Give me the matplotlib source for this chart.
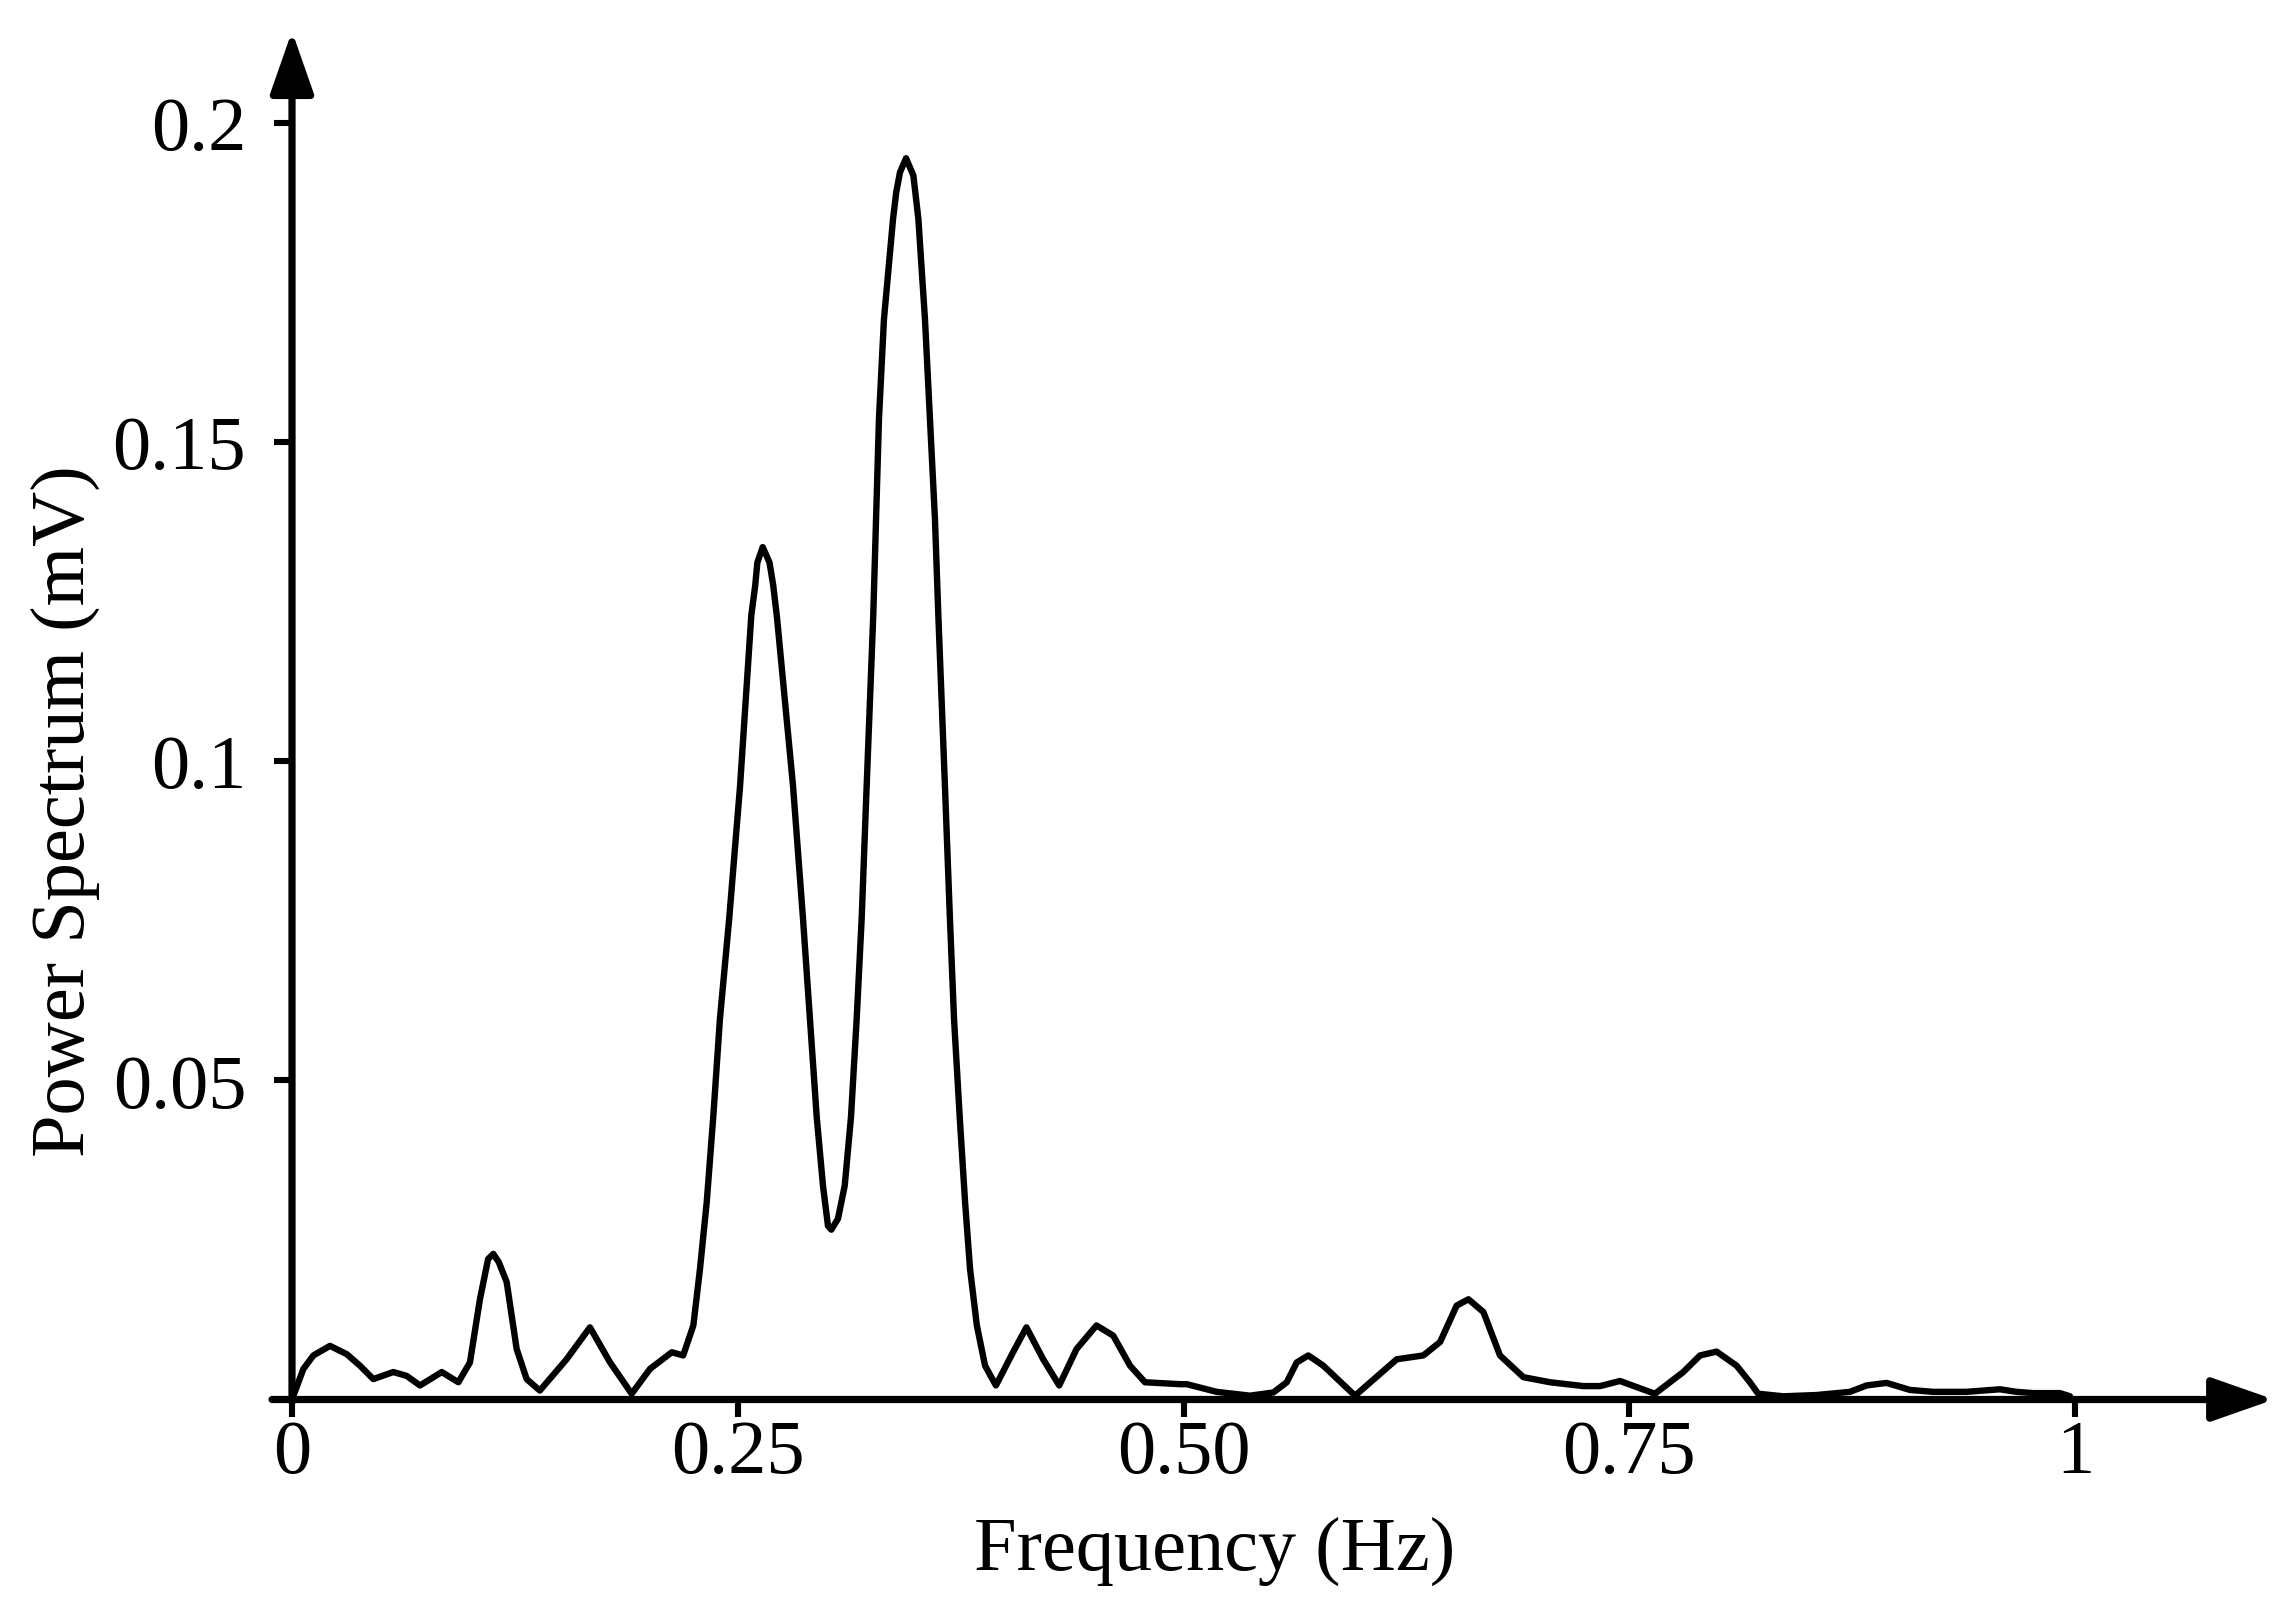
import matplotlib
matplotlib.use("Agg")
import matplotlib.pyplot as plt

# ---- data ----
freq = [0.0000, 0.0064, 0.0120, 0.0213, 0.0307, 0.0381, 0.0456, 0.0568, 0.0643, 0.0718,
        0.0840, 0.0933, 0.0998, 0.1054, 0.1100, 0.1129, 0.1160, 0.1204, 0.1260, 0.1316, 0.1390, 0.1540,
        0.1671, 0.1784, 0.1905, 0.2008, 0.2130, 0.2194, 0.2251, 0.2288, 0.2326, 0.2363,
        0.2400, 0.2452, 0.2513, 0.2576, 0.2598, 0.2610, 0.2640, 0.2678, 0.2699, 0.2720,
        0.2810, 0.2866, 0.2905, 0.2943, 0.2978, 0.3006, 0.3025, 0.3062, 0.3100, 0.3135,
        0.3167, 0.3195, 0.3223, 0.3260, 0.3292, 0.3320, 0.3371, 0.3389, 0.3410, 0.3444,
        0.3485, 0.3500, 0.3513, 0.3550, 0.3578, 0.3606, 0.3625, 0.3662, 0.3690, 0.3713,
        0.3745, 0.3775, 0.3803, 0.3841, 0.3887, 0.3948, 0.4044, 0.4119, 0.4213, 0.4303,
        0.4400, 0.4512, 0.4606, 0.4700, 0.4784, 0.4980, 0.5018, 0.5186, 0.5373, 0.5504,
        0.5579, 0.5635, 0.5700, 0.5784, 0.5962, 0.6196, 0.6345, 0.6439, 0.6532, 0.6598,
        0.6682, 0.6775, 0.6906, 0.7056, 0.7243, 0.7336, 0.7448, 0.7616, 0.7644, 0.7803,
        0.7897, 0.7990, 0.8102, 0.8177, 0.8223, 0.8364, 0.8550, 0.8738, 0.8831, 0.8943,
        0.9074, 0.9204, 0.9391, 0.9579, 0.9672, 0.9766, 0.9916, 0.9972]
power = [0.0000, 0.0048, 0.0069, 0.0084, 0.0071, 0.0053, 0.0032, 0.0043, 0.0037, 0.0022,
         0.0043, 0.0027, 0.0058, 0.0157, 0.0220, 0.0228, 0.0215, 0.0184, 0.0079, 0.0032, 0.0014, 0.0063,
         0.0113, 0.0058, 0.0009, 0.0048, 0.0074, 0.0069, 0.0116, 0.0204, 0.0309, 0.0444,
         0.0596, 0.0753, 0.0961, 0.1228, 0.1275, 0.1311, 0.1335, 0.1311, 0.1275, 0.1225,
         0.0961, 0.0753, 0.0596, 0.0442, 0.0335, 0.0272, 0.0266, 0.0283, 0.0335, 0.0442,
         0.0596, 0.0753, 0.0961, 0.1228, 0.1536, 0.1692, 0.1849, 0.1891, 0.1922, 0.1944,
         0.1917, 0.1880, 0.1849, 0.1692, 0.1536, 0.1379, 0.1228, 0.0961, 0.0753, 0.0596,
         0.0442, 0.0309, 0.0204, 0.0116, 0.0053, 0.0022, 0.0074, 0.0113, 0.0063, 0.0022,
         0.0079, 0.0116, 0.0100, 0.0053, 0.0027, 0.0024, 0.0024, 0.0012, 0.0006, 0.0011,
         0.0027, 0.0058, 0.0069, 0.0053, 0.0006, 0.0063, 0.0069, 0.0090, 0.0147, 0.0157,
         0.0137, 0.0069, 0.0035, 0.0027, 0.0021, 0.0021, 0.0029, 0.0012, 0.0009, 0.0043,
         0.0069, 0.0075, 0.0053, 0.0027, 0.0009, 0.0005, 0.0007, 0.0012, 0.0022, 0.0026,
         0.0015, 0.0012, 0.0012, 0.0016, 0.0012, 0.0010, 0.0010, 0.0005]

xticks = [0, 0.25, 0.5, 0.75, 1.0]
xticklabels = ["0", "0.25", "0.50", "0.75", "1"]
yticks = [0.05, 0.10, 0.15, 0.20]
yticklabels = ["0.05", "0.1", "0.15", "0.2"]
xlabel = "Frequency (Hz)"
ylabel = "Power Spectrum (mV)"

plt.rcParams['font.family'] = ['Liberation Serif', 'DejaVu Serif']
FS = 27.5

W, H = 2291, 1608
dpi = 200
fig = plt.figure(figsize=(W / dpi, H / dpi), dpi=dpi)

xmax, ymax = 1.12, 0.216
x0px, y0px = 292, 1400.5
px_x, px_y = 1783, 6385
ax = fig.add_axes([x0px / W, (H - y0px) / H, xmax * px_x / W, ymax * px_y / H])
ax.set_xlim(0, xmax)
ax.set_ylim(0, ymax)
for s in ax.spines.values():
    s.set_visible(False)

ax.plot(freq, power, color='black', lw=2.3, solid_joinstyle='round', solid_capstyle='round')

ax.set_xticks(xticks, xticklabels)
ax.set_yticks(yticks, yticklabels)
ax.tick_params(axis='x', direction='out', length=6.0, width=2.2, pad=1, labelsize=FS)
ax.tick_params(axis='y', direction='out', length=6.5, width=2.2, pad=10, labelsize=FS)

arrow = dict(arrowstyle='-|>,head_length=0.8,head_width=0.28', mutation_scale=24,
             lw=2.6, color='black', shrinkA=0, shrinkB=0)
ax.annotate('', xy=(1.1116, 0), xytext=(-0.0112, 0), xycoords='data',
            arrowprops=arrow, annotation_clip=False)
ax.annotate('', xy=(0, 0.2143), xytext=(0, -0.0004), xycoords='data',
            arrowprops=arrow, annotation_clip=False)

fig.text(1215 / W, 1 - 1570 / H, xlabel, ha='center', va='baseline', fontsize=FS)
fig.text(84 / W, 1 - 811 / H, ylabel, ha='center', va='baseline', rotation=90,
         rotation_mode='anchor', fontsize=FS)

fig.savefig('out.png', dpi=dpi)
